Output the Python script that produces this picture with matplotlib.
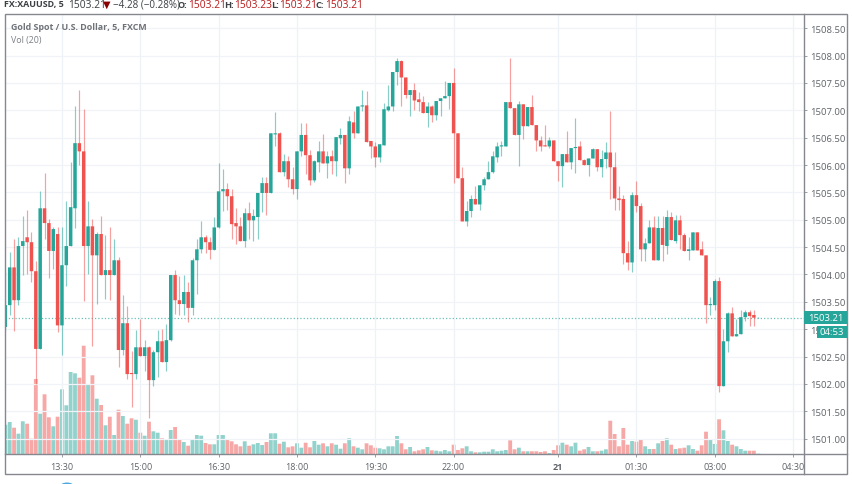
import matplotlib

matplotlib.use('Agg')
import matplotlib.pyplot as plt
import numpy as np
from matplotlib.lines import Line2D
from matplotlib.patches import Circle, Rectangle

plt.rcParams['font.family'] = ['Open Sans', 'DejaVu Sans']

W, H = 852, 485
UP, DOWN = '#26a69a', '#ef5350'
TXT = '#5f6368'

# 5 min bars, x is the bar number counted from the 13:30 bar
first_bar = -13
opens = [
    1503.04, 1503.44, 1504.13, 1503.53, 1504.52, 1504.68, 1504.59, 1504.06, 1502.64, 1505.21,
    1504.94, 1504.43, 1504.74, 1503.07, 1504.17, 1504.52, 1505.21, 1506.40, 1506.25, 1504.52,
    1504.88, 1504.35, 1504.74, 1503.99, 1504.08, 1503.99, 1504.26, 1502.62, 1503.11, 1502.20,
    1502.18, 1502.67, 1502.51, 1502.67, 1502.07, 1502.58, 1502.78, 1502.40, 1502.80, 1503.99,
    1503.53, 1503.46, 1503.68, 1503.39, 1504.26, 1504.46, 1504.68, 1504.59, 1504.45, 1504.86,
    1505.52, 1505.56, 1505.43, 1504.94, 1504.88, 1504.61, 1505.12, 1504.99, 1505.05, 1505.49,
    1505.67, 1505.49, 1506.56, 1506.58, 1505.87, 1506.07, 1505.74, 1505.56, 1506.25, 1506.55,
    1506.18, 1505.72, 1506.05, 1506.25, 1506.03, 1506.16, 1506.07, 1506.49, 1506.55, 1505.94,
    1506.78, 1506.58, 1507.07, 1507.09, 1506.44, 1506.34, 1506.14, 1506.36, 1507.00, 1507.07,
    1507.70, 1507.90, 1507.60, 1507.28, 1507.37, 1507.20, 1507.15, 1506.95, 1507.07, 1506.91,
    1507.17, 1507.22, 1507.26, 1507.50, 1506.58, 1505.76, 1504.97, 1505.16, 1505.38, 1505.28,
    1505.63, 1505.74, 1505.87, 1506.14, 1506.34, 1506.34, 1507.15, 1507.04, 1506.55, 1507.11,
    1506.71, 1507.06, 1506.73, 1506.45, 1506.36, 1506.34, 1506.45, 1506.07, 1505.98, 1506.20,
    1506.05, 1506.31, 1506.34, 1506.09, 1506.00, 1506.12, 1506.29, 1505.96, 1506.11, 1506.23,
    1505.96, 1505.39, 1505.38, 1504.39, 1504.22, 1505.45, 1505.25, 1504.46, 1504.57, 1504.86,
    1504.26, 1504.85, 1504.52, 1505.05, 1504.61, 1504.99, 1504.72, 1504.43, 1504.44, 1504.77,
    1504.46, 1504.35, 1503.44, 1503.44, 1503.88, 1501.96, 1502.78, 1503.29, 1502.87, 1502.91,
    1503.22, 1503.31, 1503.26, 1503.21,
]
highs = [
    1504.06, 1504.41, 1504.65, 1504.68, 1505.07, 1505.18, 1504.77, 1504.24, 1505.52, 1505.85,
    1505.01, 1504.86, 1504.86, 1504.86, 1505.34, 1506.05, 1507.07, 1507.37, 1507.02, 1505.34,
    1505.01, 1504.77, 1505.07, 1504.72, 1504.86, 1504.65, 1504.32, 1503.62, 1503.42, 1502.60,
    1502.98, 1503.18, 1502.80, 1502.69, 1502.62, 1502.98, 1503.00, 1503.09, 1503.99, 1504.08,
    1503.97, 1503.99, 1503.86, 1504.30, 1504.65, 1504.97, 1504.72, 1504.68, 1505.05, 1506.03,
    1505.92, 1505.67, 1505.56, 1505.21, 1505.05, 1505.21, 1505.32, 1505.19, 1505.49, 1505.78,
    1505.78, 1506.58, 1506.97, 1506.60, 1506.20, 1506.16, 1505.96, 1506.25, 1506.76, 1506.76,
    1506.27, 1506.09, 1506.44, 1506.56, 1506.25, 1506.27, 1506.51, 1506.67, 1506.55, 1506.89,
    1506.98, 1507.07, 1507.37, 1507.35, 1506.44, 1506.42, 1506.38, 1507.13, 1507.46, 1507.70,
    1507.95, 1507.92, 1507.60, 1507.37, 1507.50, 1507.33, 1507.26, 1507.15, 1507.09, 1507.17,
    1507.22, 1507.53, 1507.50, 1507.77, 1506.58, 1505.96, 1505.34, 1505.45, 1505.61, 1505.63,
    1505.78, 1506.07, 1506.25, 1506.42, 1506.44, 1507.15, 1507.95, 1507.04, 1507.17, 1507.11,
    1507.06, 1507.28, 1506.73, 1506.53, 1506.73, 1506.51, 1506.45, 1506.07, 1506.20, 1506.62,
    1506.31, 1506.86, 1506.44, 1506.11, 1506.12, 1506.31, 1506.29, 1506.27, 1506.42, 1506.98,
    1506.23, 1505.61, 1505.45, 1504.61, 1505.50, 1505.70, 1505.30, 1504.66, 1504.99, 1505.07,
    1505.07, 1505.07, 1505.18, 1505.14, 1505.08, 1505.08, 1504.76, 1504.68, 1504.77, 1504.77,
    1504.61, 1504.35, 1503.59, 1503.91, 1503.95, 1503.00, 1503.31, 1503.40, 1503.18, 1503.35,
    1503.35, 1503.35, 1503.35, 1503.23,
]
lows = [
    1502.95, 1503.26, 1502.96, 1503.44, 1503.99, 1504.01, 1503.86, 1502.00, 1502.64, 1504.65,
    1503.93, 1504.10, 1502.95, 1502.53, 1503.79, 1504.52, 1504.85, 1506.00, 1503.51, 1504.01,
    1502.69, 1503.46, 1503.99, 1503.55, 1503.53, 1503.99, 1502.31, 1502.53, 1502.09, 1501.58,
    1502.09, 1502.51, 1502.23, 1501.38, 1501.96, 1502.12, 1502.40, 1502.23, 1502.78, 1503.27,
    1503.26, 1503.26, 1503.13, 1503.26, 1503.64, 1504.40, 1504.40, 1504.28, 1504.45, 1504.85,
    1505.16, 1505.18, 1504.65, 1504.55, 1504.61, 1504.50, 1504.65, 1504.61, 1504.65, 1505.14,
    1505.08, 1505.49, 1506.34, 1505.87, 1505.80, 1505.60, 1505.47, 1505.38, 1506.16, 1505.83,
    1505.63, 1505.69, 1505.87, 1506.03, 1505.76, 1505.83, 1505.80, 1506.38, 1505.67, 1505.83,
    1506.49, 1506.58, 1506.98, 1506.42, 1506.12, 1505.96, 1506.05, 1506.36, 1506.98, 1506.98,
    1507.46, 1507.07, 1507.22, 1506.89, 1507.00, 1506.98, 1506.95, 1506.69, 1506.78, 1506.82,
    1506.89, 1507.22, 1507.02, 1505.67, 1505.76, 1504.97, 1504.88, 1505.05, 1505.28, 1505.18,
    1505.54, 1505.74, 1505.85, 1506.05, 1506.16, 1506.34, 1507.04, 1506.55, 1505.98, 1506.47,
    1506.71, 1506.73, 1506.25, 1506.25, 1506.34, 1506.32, 1506.07, 1505.70, 1505.60, 1506.05,
    1505.92, 1505.85, 1506.09, 1506.00, 1505.80, 1506.12, 1505.89, 1505.78, 1505.94, 1505.38,
    1505.18, 1505.18, 1504.19, 1504.08, 1504.04, 1505.14, 1504.24, 1504.24, 1504.57, 1504.26,
    1504.26, 1504.24, 1504.37, 1504.63, 1504.57, 1504.46, 1504.43, 1504.26, 1504.44, 1504.44,
    1504.35, 1503.11, 1503.26, 1503.35, 1501.85, 1501.96, 1502.58, 1502.87, 1502.87, 1502.91,
    1503.15, 1503.06, 1503.06, 1503.21,
]
closes = [
    1503.44, 1504.13, 1503.53, 1504.52, 1504.61, 1504.59, 1504.06, 1502.64, 1505.21, 1504.94,
    1504.43, 1504.83, 1503.07, 1504.17, 1504.52, 1505.23, 1506.40, 1506.25, 1504.52, 1504.88,
    1504.35, 1504.74, 1503.99, 1504.08, 1503.99, 1504.26, 1502.62, 1503.11, 1502.18, 1502.18,
    1502.67, 1502.51, 1502.67, 1502.07, 1502.58, 1502.78, 1502.40, 1502.80, 1503.99, 1503.53,
    1503.46, 1503.68, 1503.39, 1504.26, 1504.46, 1504.68, 1504.59, 1504.45, 1504.86, 1505.52,
    1505.56, 1505.43, 1504.92, 1504.88, 1504.61, 1505.12, 1504.99, 1505.07, 1505.49, 1505.67,
    1505.49, 1506.58, 1506.58, 1505.87, 1506.07, 1505.74, 1505.56, 1506.25, 1506.55, 1506.18,
    1505.72, 1506.07, 1506.25, 1506.03, 1506.16, 1506.07, 1506.51, 1506.55, 1505.94, 1506.80,
    1506.58, 1507.07, 1507.09, 1506.42, 1506.34, 1506.14, 1506.38, 1507.02, 1507.07, 1507.70,
    1507.90, 1507.60, 1507.28, 1507.37, 1507.18, 1507.15, 1506.95, 1507.07, 1506.91, 1507.17,
    1507.22, 1507.26, 1507.50, 1506.58, 1505.76, 1504.97, 1505.16, 1505.38, 1505.28, 1505.63,
    1505.74, 1505.87, 1506.16, 1506.34, 1506.36, 1507.15, 1507.04, 1506.55, 1507.11, 1506.71,
    1507.06, 1506.73, 1506.45, 1506.34, 1506.34, 1506.45, 1506.07, 1505.98, 1506.20, 1506.05,
    1506.31, 1506.33, 1506.09, 1506.00, 1506.12, 1506.29, 1505.96, 1506.11, 1506.23, 1505.96,
    1505.39, 1505.36, 1504.39, 1504.22, 1505.45, 1505.25, 1504.46, 1504.57, 1504.86, 1504.26,
    1504.85, 1504.54, 1505.05, 1504.63, 1504.99, 1504.72, 1504.43, 1504.46, 1504.77, 1504.44,
    1504.35, 1503.44, 1503.46, 1503.88, 1501.96, 1502.78, 1503.29, 1502.87, 1502.91, 1503.22,
    1503.31, 1503.24, 1503.21, 1503.21,
]
volumes = [
    29.3, 32, 26.3, 20.3, 32.7, 30.3, 15.3, 75, 40.3, 59.7,
    36.7, 27.7, 37.3, 64.7, 48.7, 82, 80.7, 76.3, 108.3, 70,
    78.7, 55.3, 49, 28.7, 37.3, 19, 44.3, 38, 30.3, 35.7,
    34.3, 21.3, 18.3, 32.3, 22.7, 21.3, 15.7, 15, 24, 27,
    15, 12, 8.3, 15, 19, 18.3, 11, 9.7, 9.7, 19,
    19, 14, 12.7, 9.7, 7.7, 12.7, 8.3, 9.7, 11, 9,
    12, 20.7, 20.7, 10.3,
    12.3, 6.7, 7.7, 10.7, 6.3, 11.3, 6.7, 13, 9.3, 10.7,
    7.7, 10.7, 9.3, 5.3, 10.7, 15.7, 7.7, 6.3, 4.7, 10.7,
    8.7, 6.3, 5.7, 4.7, 7.7, 7.7, 18, 10.7, 4.7, 7,
    2.7, 3.7, 4.7, 7, 3.7, 3.3, 2.7, 4, 2.7, 9.3,
    4, 5.7, 7.7, 2.7, 1.7, 1.7, 2.3, 2.3, 4.7, 2.7,
    3.3, 4, 13.7, 4.7, 6.3, 2.7, 2.7, 2.7, 2.7, 2,
    2.7, 1, 4, 8.7, 11.3,
    9.3, 7.7, 11.3, 3.3, 4.7, 7, 2.7, 2.7, 3.3, 4.7,
    33.3, 20, 7.7, 26, 9.3, 13, 12.3, 15, 7.7, 5,
    5, 10.7, 13, 15.7, 9.3, 5, 5.7, 6.3, 8.7, 5,
    3.3, 8.7, 22.3, 14.3, 10, 34.7, 23.7, 13, 9.3, 7.7,
    5, 3.3, 3.3, 3.3, 0.3,
]
time_ticks = [0, 18, 36, 54, 72, 90, 114, 132, 150, 168]
time_labels = ['13:30', '15:00', '16:30', '18:00', '19:30', '22:00', '21', '01:30', '03:00', '04:30']
price_ticks = [1501, 1501.5, 1502, 1502.5, 1503, 1503.5, 1504, 1504.5,
               1505, 1505.5, 1506, 1506.5, 1507, 1507.5, 1508, 1508.5]
last_price = 1503.21


def fx(px):
    return px / W


def fy(py):
    return 1 - py / H


opens = np.array(opens)
highs = np.array(highs)
lows = np.array(lows)
closes = np.array(closes)
bars = first_bar + np.arange(len(opens))
rising = closes >= opens
colors = np.where(rising, UP, DOWN)

fig = plt.figure(figsize=(W / 100, H / 100), dpi=100)
ax_vol = fig.add_axes([fx(4.5), fy(455), fx(803.5 - 4.5), (455 - 15) / H])
ax = ax_vol.twinx()
ax.set_zorder(ax_vol.get_zorder() + 1)
ax.patch.set_visible(False)

# snapping off, otherwise the 4 px bars land unevenly on the pixel grid
vol_bars = ax_vol.bar(bars, volumes, width=0.88, color=colors, alpha=0.5, linewidth=0)
for p in vol_bars:
    p.set_snap(False)
ax_vol.set_ylim(0, 440)
ax_vol.set_yticks([])

for a in (ax, ax_vol):
    a.set_xlim(-13.2, 170.4)
    for s in a.spines.values():
        s.set_visible(False)

ax.set_ylim(1500.72, 1508.76)
ax.set_yticks(price_ticks)
ax.set_yticklabels([f'{p:.2f}' for p in price_ticks], fontsize=6.8, color=TXT)
ax.tick_params(axis='y', length=2.5, width=0.7, color='#9a9da3', pad=2.5)
ax.grid(True, axis='y', color='#f0f3f7', lw=0.9)
ax.set_axisbelow(True)
for t in time_ticks:
    ax.axvline(t, color='#edf2f7', lw=0.9, zorder=0.5)

ax_vol.set_xticks(time_ticks)
ax_vol.set_xticklabels(time_labels, fontsize=6.5, color=TXT)
ax_vol.tick_params(axis='x', length=2.5, width=0.7, color='#9a9da3', pad=3.5)
ax_vol.get_xticklabels()[time_labels.index('21')].set_fontweight('bold')

ax.vlines(bars, lows, highs, colors=colors, lw=0.85, alpha=0.55, zorder=2)
bodies = ax.bar(bars, closes - opens, bottom=opens, width=0.8, color=colors, linewidth=0, zorder=3)
for p in bodies:
    p.set_snap(False)
ax.axhline(last_price, color=UP, ls=':', lw=0.9, alpha=0.7, zorder=1.5)

# chart frame and the price / time scale dividers
frame = '#85888f'
fig.add_artist(Rectangle((fx(4.5), fy(475)), fx(847 - 4.5), (475 - 15) / H, fill=False,
                         ec=frame, lw=1, transform=fig.transFigure, zorder=9))
fig.add_artist(Line2D([fx(803.5)] * 2, [fy(15), fy(475)], color=frame, lw=1, zorder=9))
fig.add_artist(Line2D([fx(4.5), fx(847)], [fy(455)] * 2, color=frame, lw=1, zorder=9))

# last price and countdown labels
fig.add_artist(Rectangle((fx(803.5), fy(325)), fx(43.5), 13 / H, fc=UP, ec='none',
                         transform=fig.transFigure, zorder=10))
fig.add_artist(Rectangle((fx(817), fy(339)), fx(30), 12.5 / H, fc=UP, ec='none',
                         transform=fig.transFigure, zorder=10))
fig.text(fx(825.5), fy(318.6), f'{last_price:.2f}', color='white', fontsize=6.8,
         ha='center', va='center', zorder=11)
fig.text(fx(832), fy(332.5), '04:53', color='white', fontsize=6.8,
         ha='center', va='center', zorder=11)

# header row
dark = '#3c4043'
val = '#b71c1c'
header = [(4, 'FX:XAUUSD, 5', dark, 'bold', 6.4), (68, '1503.21', dark, 'normal', 7.4),
          (103, '▼', '#8b0000', 'normal', 7), (113, '−4.28 (−0.28%)', dark, 'normal', 7.1),
          (178, 'O:', dark, 'bold', 6.6), (188, '1503.21', val, 'normal', 7.4),
          (224, 'H:', dark, 'bold', 6.6), (234, '1503.23', val, 'normal', 7.4),
          (271, 'L:', dark, 'bold', 6.6), (279, '1503.21', val, 'normal', 7.4),
          (316, 'C:', dark, 'bold', 6.6), (325, '1503.21', val, 'normal', 7.4)]
for px, s, c, w, size in header:
    fig.text(fx(px), fy(5), s, color=c, fontweight=w, fontsize=size, va='center', ha='left')

fig.text(fx(11), fy(27), 'Gold Spot / U.S. Dollar, 5, FXCM', color='#6f7378',
         fontweight='bold', fontsize=6.4, va='center')
fig.text(fx(11), fy(40), 'Vol (20)', color='#7c8085', fontsize=6.4, va='center')

# edge of a blue marker, cut off by the bottom of the screenshot
fig.add_artist(Circle((fx(67), fy(487.5)), 4 / H, fc='#4fa8e0', ec='none',
                      transform=fig.transFigure, zorder=9))

fig.savefig('out.png', dpi=100)
